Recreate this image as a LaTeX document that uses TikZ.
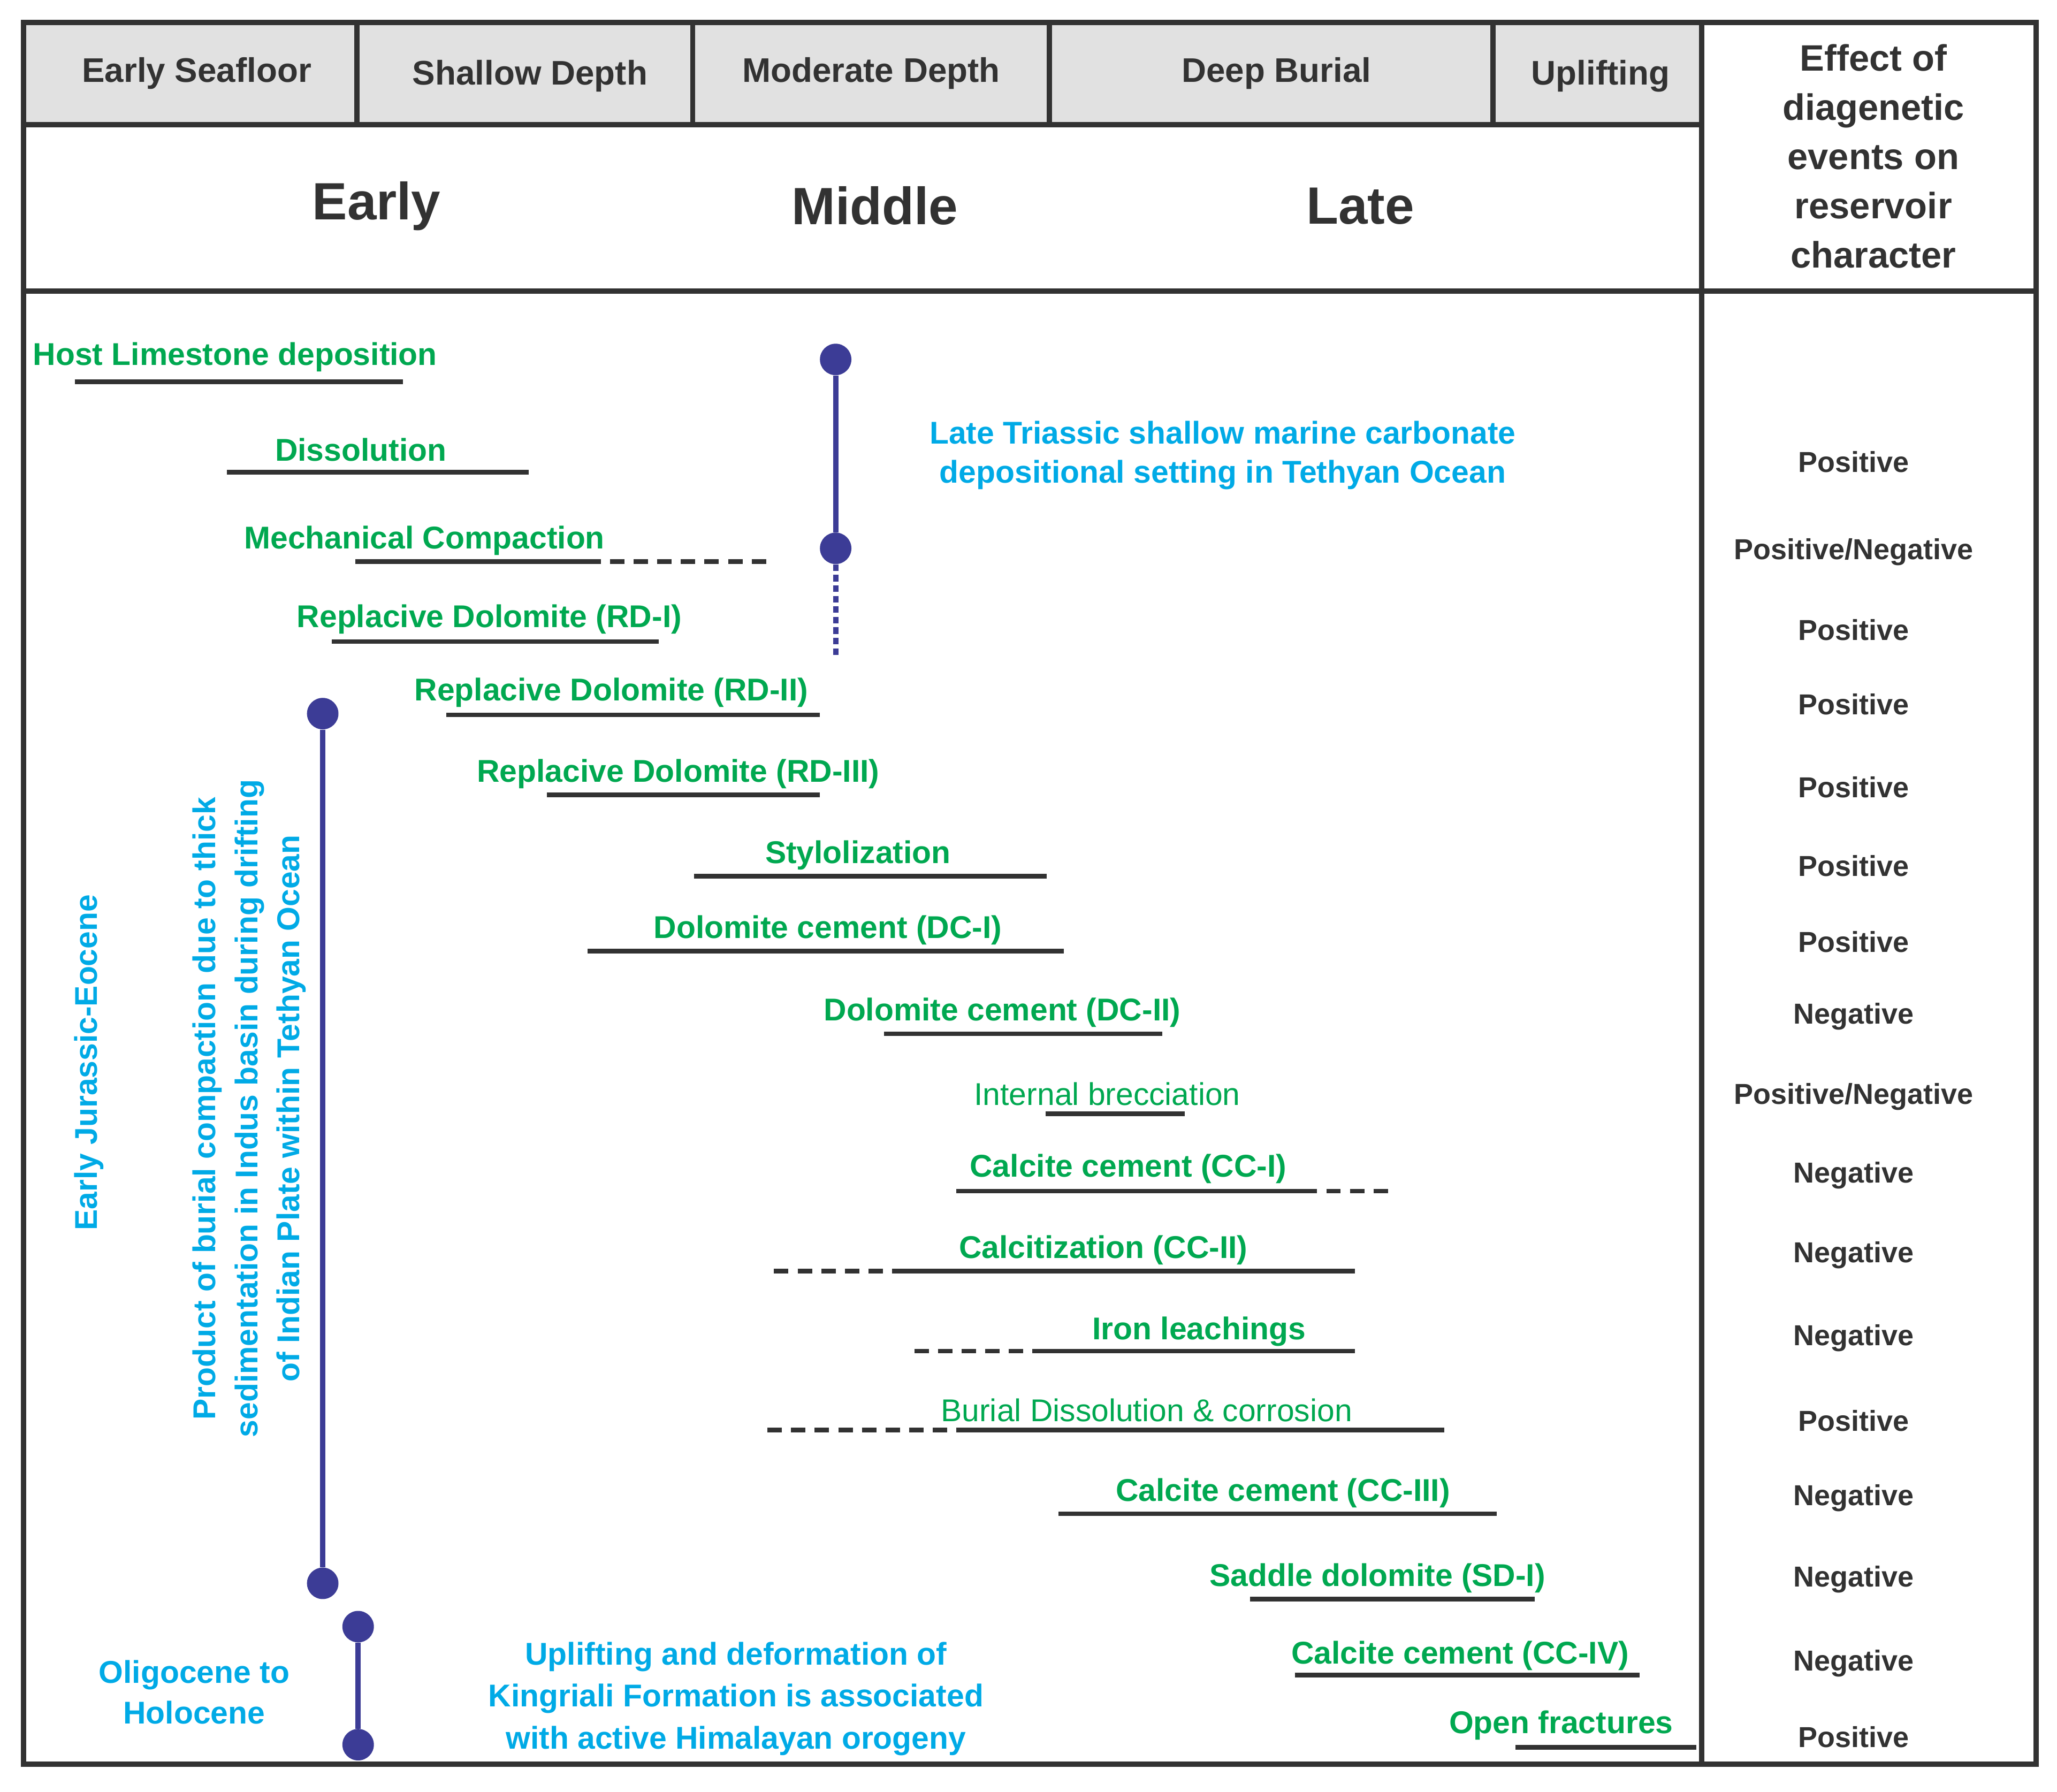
\documentclass[tikz,border=0pt]{standalone}
\usepackage{fontspec}
\setmainfont{Liberation Sans}
\begin{document}
\definecolor{grn}{RGB}{0,168,80}
\definecolor{cyn}{RGB}{0,170,230}
\definecolor{nav}{RGB}{60,60,150}
\definecolor{dk}{RGB}{50,50,50}
\definecolor{hd}{RGB}{225,225,225}
\begin{tikzpicture}[x=1pt,y=-1pt,
 lab/.style={text=grn,font=\bfseries\fontsize{24}{28}\selectfont,inner sep=0},
 labn/.style={text=grn,font=\fontsize{24}{28}\selectfont,inner sep=0},
 eff/.style={text=dk,font=\bfseries\fontsize{22}{26}\selectfont,inner sep=0},
 hdr/.style={text=dk,font=\bfseries\fontsize{26}{30}\selectfont,inner sep=0},
 big/.style={text=dk,font=\bfseries\fontsize{40}{44}\selectfont,inner sep=0},
 cy/.style={text=cyn,font=\bfseries\fontsize{24}{30}\selectfont,inner sep=0,align=center},
 bar/.style={dk,line width=3.5pt},
 dbar/.style={dk,line width=3.5pt,dash pattern=on 11pt off 7pt},
 nl/.style={nav,line width=4pt},
 dot/.style={circle,fill=nav,minimum size=24pt,inner sep=0}]
\useasboundingbox (0,0) rectangle (1568,1366);
\fill[white] (0,0) rectangle (1568,1366);
\fill[hd] (18,17) rectangle (1297,95);
\draw[dk,line width=4pt] (18,17) rectangle (1552,1345);
\draw[dk,line width=4pt] (1297,17) -- (1297,1345);
\draw[dk,line width=4pt] (18,95) -- (1297,95);
\draw[dk,line width=4pt] (18,222) -- (1552,222);
\foreach \x in {272,528,800,1138} \draw[dk,line width=4pt] (\x,17) -- (\x,95);
\node[hdr] (h1) at (150,56) {Early Seafloor};
\node[hdr] (h2) at (404,58) {Shallow Depth};
\node[hdr] (h3) at (664,56) {Moderate Depth};
\node[hdr] (h4) at (973,56) {Deep Burial};
\node[hdr] (h5) at (1220,58) {Uplifting};
\node[hdr,align=center,font=\bfseries\fontsize{28}{37.5}\selectfont] (h6) at (1428,119) {Effect of\\diagenetic\\events on\\reservoir\\character};
\node[big] (e) at (287,157) {Early};
\node[big] (m) at (667,157) {Middle};
\node[big] (l) at (1037,157) {Late};
% events
\node[lab,anchor=west] (t1) at (25,272) {Host Limestone deposition};
\draw[bar] (57,291) -- (307,291);
\node[lab] (t2) at (275,343) {Dissolution};
\draw[bar] (173,360) -- (403,360);
\node[lab,anchor=west] (t3) at (186,412) {Mechanical Compaction};
\draw[bar] (271,428) -- (447,428); \draw[dbar] (447,428) -- (590,428);
\node[lab] (t4) at (373,472) {Replacive Dolomite (RD-I)};
\draw[bar] (253,489) -- (502,489);
\node[lab] (t5) at (466,528) {Replacive Dolomite (RD-II)};
\draw[bar] (340,545) -- (625,545);
\node[lab] (t6) at (517,590) {Replacive Dolomite (RD-III)};
\draw[bar] (417,606) -- (625,606);
\node[lab] (t7) at (654,652) {Stylolization};
\draw[bar] (529,668) -- (798,668);
\node[lab] (t8) at (631,709) {Dolomite cement (DC-I)};
\draw[bar] (448,725) -- (811,725);
\node[lab] (t9) at (764,772) {Dolomite cement (DC-II)};
\draw[bar] (674,788) -- (886,788);
\node[labn] (t10) at (844,834) {Internal brecciation};
\draw[bar] (797,849) -- (903,849);
\node[lab] (t11) at (860,891) {Calcite cement (CC-I)};
\draw[bar] (729,908) -- (993,908); \draw[dbar] (993,908) -- (1065,908);
\node[lab] (t12) at (841,953) {Calcitization (CC-II)};
\draw[dbar] (590,969) -- (685,969); \draw[bar] (685,969) -- (1033,969);
\node[lab] (t13) at (914,1015) {Iron leachings};
\draw[dbar] (697,1030) -- (790,1030); \draw[bar] (790,1030) -- (1033,1030);
\node[labn] (t14) at (874,1075) {Burial Dissolution \& corrosion};
\draw[dbar] (585,1090) -- (735,1090); \draw[bar] (735,1090) -- (1101,1090);
\node[lab] (t15) at (978,1138) {Calcite cement (CC-III)};
\draw[bar] (807,1154) -- (1141,1154);
\node[lab] (t16) at (1050,1203) {Saddle dolomite (SD-I)};
\draw[bar] (953,1219) -- (1170,1219);
\node[lab] (t17) at (1113,1262) {Calcite cement (CC-IV)};
\draw[bar] (987,1277) -- (1250,1277);
\node[lab] (t18) at (1190,1315) {Open fractures};
\draw[bar] (1155,1332) -- (1293,1332);
% effects
\foreach \y/\t [count=\i] in {352/Positive,421/Positive\slash Negative,480/Positive,537/Positive,600/Positive,660/Positive,718/Positive,775/Negative,836/Positive\slash Negative,896/Negative,957/Negative,1020/Negative,1083/Positive,1142/Negative,1204/Negative,1268/Negative,1324/Positive}
  \node[eff] (f\i) at (1413,\y) {\t};
% navy timelines
\node[dot] (a1) at (637,274) {}; \node[dot] (a2) at (637,418) {};
\coordinate (a3) at (637,500);
\draw[nl] (a1) -- (a2); \draw[nl,dash pattern=on 5pt off 3pt] (a2) -- (a3);
\node[cy] (c1) at (932,347) {Late Triassic shallow marine carbonate\\depositional setting in Tethyan Ocean};
\node[dot] (b1) at (246,544) {}; \node[dot] (b2) at (246,1207) {};
\draw[nl] (b1) -- (b2);
\node[cy,rotate=90] (c2) at (68,810) {Early Jurassic-Eocene};
\node[cy,rotate=90,font=\bfseries\fontsize{24}{32}\selectfont] (c3) at (190,845) {Product of burial compaction due to thick\\sedimentation in Indus basin during drifting\\of Indian Plate within Tethyan Ocean};
\node[dot] (d1) at (273,1240) {}; \node[dot] (d2) at (273,1330) {};
\draw[nl] (d1) -- (d2);
\node[cy,font=\bfseries\fontsize{24}{31}\selectfont] (c4) at (148,1290) {Oligocene to\\Holocene};
\node[cy,font=\bfseries\fontsize{24}{32}\selectfont] (c5) at (561,1295) {Uplifting and deformation of\\Kingriali Formation is associated\\with active Himalayan orogeny};
\end{tikzpicture}
\end{document}
